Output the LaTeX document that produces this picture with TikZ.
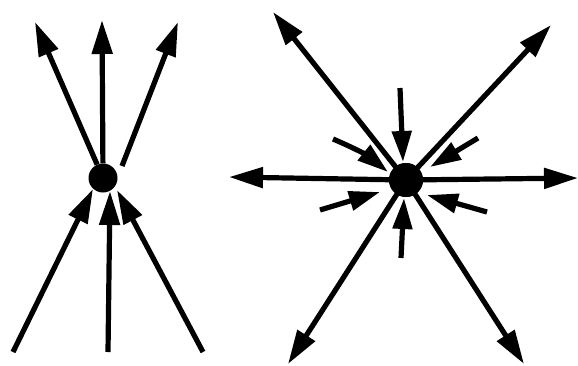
\documentclass[tikz,border=0pt]{standalone}
\usetikzlibrary{arrows.meta}
\begin{document}
\begin{tikzpicture}[x=1pt,y=-1pt,
  ray/.style={line width=5.2pt,-{Triangle[length=34pt,width=20pt]}},
  sray/.style={line width=5.2pt,-{Triangle[length=31pt,width=19pt]}},
  dot/.style={circle,fill=black,inner sep=0pt}]
\useasboundingbox (0,0) rectangle (578,365);
% left figure
\node[dot,minimum size=29pt] (L) at (103,178) {};
\coordinate (Lt1) at (35,22);
\coordinate (Lt2) at (102,20);
\coordinate (Lt3) at (178,22);
\coordinate (Ls3) at (122,166);
\coordinate (Lb1) at (13,352);
\coordinate (Lb2) at (108,352);
\coordinate (Lb3) at (203,352);
\coordinate (Le1) at (93,189);
\coordinate (Le2) at (110,191);
\coordinate (Le3) at (117,190);
\draw[ray] (L) -- (Lt1);
\draw[ray] (L) -- (Lt2);
\draw[ray] (Ls3) -- (Lt3);
\draw[ray] (Lb1) -- (Le1);
\draw[ray] (Lb2) -- (Le2);
\draw[ray] (Lb3) -- (Le3);
% right figure
\node[dot,minimum size=34pt] (R) at (406,180) {};
\coordinate (Ra1) at (273,12);
\coordinate (Ra2) at (551,25);
\coordinate (Ra3) at (229,177);
\coordinate (Ra4) at (578,178);
\coordinate (Ra5) at (288,364);
\coordinate (Ra6) at (524,364);
\foreach \t in {Ra1,Ra2,Ra3,Ra4,Ra5,Ra6} \draw[ray] (R.center) -- (\t);
\fill (R) circle (17pt);
% short incoming arrows
\coordinate (Sa) at (400,88);   \coordinate (Ea) at (403,162);
\coordinate (Sb) at (401,258);  \coordinate (Eb) at (404,198);
\coordinate (Sc) at (333,139);  \coordinate (Ec) at (388,172);
\coordinate (Sd) at (478,138);  \coordinate (Ed) at (430,167);
\coordinate (Se) at (320,210);  \coordinate (Ee) at (380,192);
\coordinate (Sf) at (487,212);  \coordinate (Ef) at (427,195);
\draw[sray] (Sa) -- (Ea);
\draw[sray] (Sb) -- (Eb);
\draw[sray] (Sc) to[bend left=8] (Ec);
\draw[sray] (Sd) -- (Ed);
\draw[sray] (Se) -- (Ee);
\draw[sray] (Sf) -- (Ef);
\end{tikzpicture}
\end{document}
